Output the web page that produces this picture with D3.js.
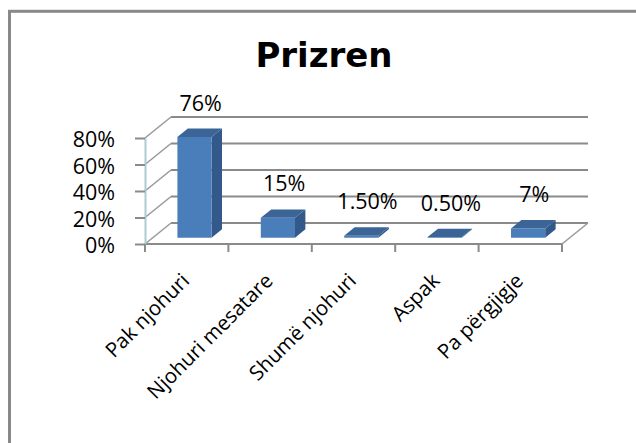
<!DOCTYPE html>
<html>
<head>
<meta charset="utf-8">
<script src="https://cdn.jsdelivr.net/npm/d3@7"></script>
<style>
  html, body { margin: 0; padding: 0; background: #fff; }
  svg { display: block; }
</style>
</head>
<body>
<script>
// ---- data ----
const categories = ["Pak njohuri", "Njohuri mesatare", "Shumë njohuri", "Aspak", "Pa përgjigje"];
const values = [0.76, 0.15, 0.015, 0.005, 0.07];
const valueLabels = ["76%", "15%", "1.50%", "0.50%", "7%"];
const yTicks = [0, 0.2, 0.4, 0.6, 0.8];
const title = "Prizren";

// ---- layout ----
const W = 636, H = 443;
const DX = 26, DY = 21;          // depth offset of the 3D floor/walls
const barZ0 = 0.3, barZ1 = 0.7;  // bar depth range (fraction of floor depth)
const barFrac = 0.41;            // bar width as fraction of band
const FONT = "'Open Sans', sans-serif";

const svg = d3.select("body").append("svg").attr("width", W).attr("height", H);

// frame
svg.append("rect").attr("x", 9.5).attr("y", 11.3).attr("width", 700).attr("height", 600)
  .attr("fill", "#fff").attr("stroke", "#898989").attr("stroke-width", 3);

const x = d3.scaleBand().domain(categories).range([145, 562]).padding(0);
const y = d3.scaleLinear().domain([0, 0.8]).range([244, 138]);
const x0 = x.range()[0], x1 = x.range()[1];

const P = (px, py, z) => [px + z * DX, py - z * DY];

const grid = svg.append("g");
// side wall diagonals + back wall horizontal gridlines
yTicks.forEach(t => {
  const a = P(x0, y(t), 0), b = P(x0, y(t), 1), c = P(x1, y(t), 1);
  grid.append("path").attr("d", d3.line()([a, b]))
    .attr("stroke", "#9a9a9a").attr("stroke-width", 1.6).attr("fill", "none");
  grid.append("path").attr("d", d3.line()([b, c]))
    .attr("stroke", "#8a8a8a").attr("stroke-width", 2).attr("fill", "none");
});
// floor front edge and right edge
grid.append("path").attr("d", d3.line()([P(x0, y(0), 0), P(x1, y(0), 0)]))
  .attr("stroke", "#8a8a8a").attr("stroke-width", 2).attr("fill", "none");
grid.append("path").attr("d", d3.line()([P(x1, y(0), 0), P(x1, y(0), 1)]))
  .attr("stroke", "#9a9a9a").attr("stroke-width", 1.6).attr("fill", "none");

// y axis
const yAxis = d3.axisLeft(y).tickValues(yTicks).tickFormat(d3.format(".0%"))
  .tickSize(10).tickSizeOuter(0).tickPadding(20);
const yg = svg.append("g").attr("transform", `translate(${x0},0)`).call(yAxis);
yg.select(".domain").attr("stroke", "#a8cdd3").attr("stroke-width", 2);
yg.selectAll(".tick line").attr("stroke", "#8a8a8a").attr("stroke-width", 2);
yg.selectAll(".tick text").style("font-family", FONT).style("font-size", "21.5px")
  .attr("fill", "#000").attr("dy", "0.4em");

// x ticks at band boundaries
const bounds = categories.map(c => x(c)).concat([x1]);
svg.append("g").selectAll("line").data(bounds).join("line")
  .attr("x1", d => d).attr("x2", d => d).attr("y1", y(0)).attr("y2", y(0) + 8)
  .attr("stroke", "#8a8a8a").attr("stroke-width", 2);

// bars
const bw = x.bandwidth() * barFrac;
const bars = svg.append("g");
categories.forEach((c, i) => {
  const cx = x(c) + x.bandwidth() / 2;
  const l = cx - bw / 2, r = cx + bw / 2;
  const yb = y(0), yt = y(values[i]);
  const f = [P(l, yb, barZ0), P(r, yb, barZ0), P(r, yt, barZ0), P(l, yt, barZ0)];
  const side = [P(r, yb, barZ0), P(r, yb, barZ1), P(r, yt, barZ1), P(r, yt, barZ0)];
  const top = [P(l, yt, barZ0), P(r, yt, barZ0), P(r, yt, barZ1), P(l, yt, barZ1)];
  const poly = pts => "M" + pts.map(p => p.join(",")).join("L") + "Z";
  bars.append("path").attr("d", poly(side)).attr("fill", "#33588a");
  bars.append("path").attr("d", poly(f)).attr("fill", "#4a7ebb");
  bars.append("path").attr("d", poly(top)).attr("fill", "#3b6497");
  // value label
  const lp = P(cx, yt, barZ1);
  svg.append("text").attr("x", cx + DX / 2 + 1).attr("y", lp[1] - 18)
    .attr("text-anchor", "middle").style("font-family", FONT).style("font-size", "21.5px")
    .attr("fill", "#000").text(valueLabels[i]);
});

// category labels
svg.append("g").selectAll("text").data(categories).join("text")
  .attr("transform", d => `translate(${x(d) + x.bandwidth() / 2 + 4},${y(0) + 38}) rotate(-45)`)
  .attr("text-anchor", "end").style("font-family", FONT).style("font-size", "20.5px")
  .attr("fill", "#000").text(d => d);

// title
svg.append("text").attr("x", 324).attr("y", 67).attr("text-anchor", "middle")
  .style("font-family", "'DejaVu Sans', sans-serif").style("font-weight", "bold")
  .style("font-size", "34px").attr("fill", "#000").text(title);
</script>
</body>
</html>
